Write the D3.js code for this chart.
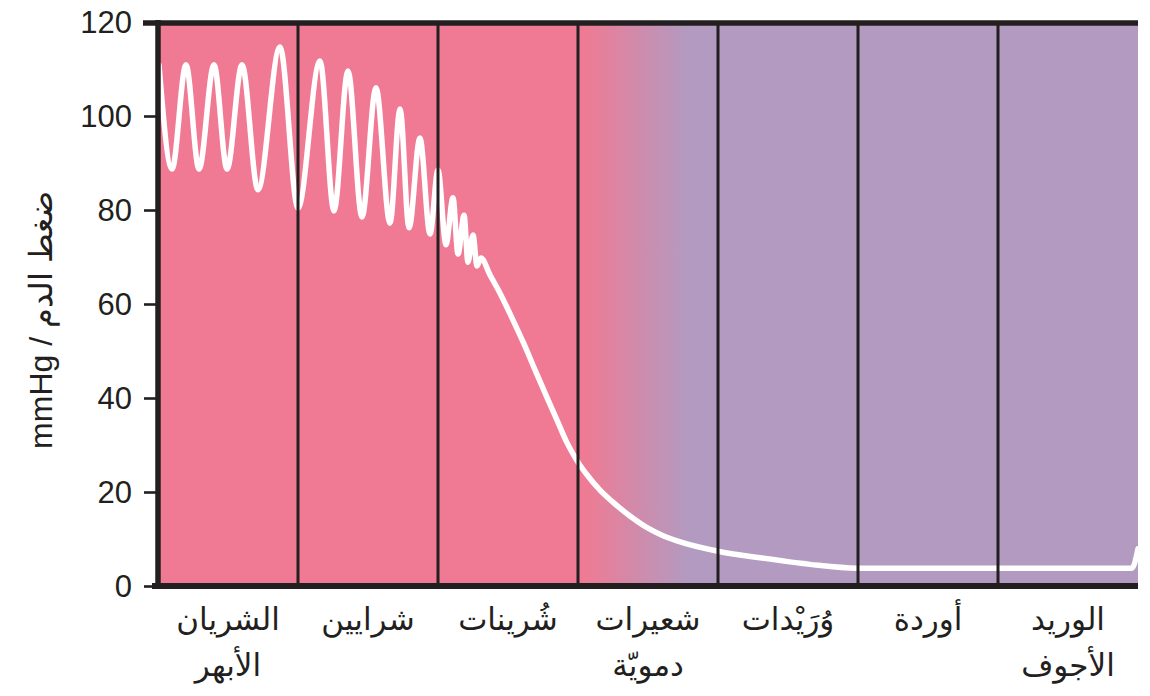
<!DOCTYPE html>
<html>
<head>
<meta charset="utf-8">
<script src="https://cdn.jsdelivr.net/npm/d3@7"></script>
<style>
  html, body { margin: 0; padding: 0; background: #ffffff; }
  svg { display: block; }
</style>
</head>
<body>
<svg id="chart" width="1150" height="696"></svg>
<script>
// ---------- data ----------
const categoryLabels = [
  ["الشريان", "الأبهر"],
  ["شرايين"],
  ["شُرينات"],
  ["شعيرات", "دمويّة"],
  ["وُرَيْدات"],
  ["أوردة"],
  ["الوريد", "الأجوف"]
];
const yTickValues = [0, 20, 40, 60, 80, 100, 120];
const yAxisTitle = "mmHg / ضغط الدم";

// position along the circulation (in vessel-segment units, 0..7)
const position = [
  0.007, 0.1, 0.2, 0.293, 0.4, 0.493, 0.6, 0.714, 0.871, 1.0,
  1.157, 1.257, 1.357, 1.457, 1.557, 1.657, 1.729, 1.793, 1.871, 1.943,
  2.0, 2.057, 2.107, 2.143, 2.186, 2.214, 2.25, 2.279, 2.307, 2.371,
  2.443, 2.529, 2.614, 2.7, 2.786, 2.857, 2.921, 2.986, 3.071, 3.157,
  3.243, 3.371, 3.5, 3.6, 3.707, 4.0, 4.3, 4.657, 4.993, 6.014, 6.957, 7.0
];
// blood pressure (mmHg)
const pressure = [
  110.9, 88.7, 110.9, 88.7, 110.9, 88.7, 110.9, 84.3, 114.7, 80.4,
  111.7, 79.8, 109.6, 78.5, 106.0, 77.2, 101.5, 76.2, 95.3, 74.9,
  88.5, 72.6, 82.6, 70.6, 78.9, 68.9, 74.7, 68.1, 69.8, 66.2,
  62.3, 57.0, 51.5, 45.5, 39.6, 34.8, 30.5, 27.0, 23.4, 20.4,
  18.0, 14.9, 12.3, 10.8, 9.6, 7.4, 6.0, 4.6, 3.8, 3.8, 3.8, 7.9
];

// ---------- layout ----------
const dark = "#231f20";
const pink = "#f07a93";
const purple = "#b39ac0";
const mLeft = 158, mRight = 1138, mTop = 22, mBottom = 586;

const svg = d3.select("#chart");

const x = d3.scaleLinear().domain([0, 7]).range([mLeft, mRight]);
const y = d3.scaleLinear().domain([0, 120]).range([mBottom, mTop]);
const band = d3.scaleBand().domain(d3.range(categoryLabels.length)).range([mLeft, mRight]).paddingInner(0).paddingOuter(0);

// gradient background
const defs = svg.append("defs");
const grad = defs.append("linearGradient")
  .attr("id", "bg")
  .attr("gradientUnits", "userSpaceOnUse")
  .attr("x1", x(3.03)).attr("x2", x(3.78))
  .attr("y1", 0).attr("y2", 0);
grad.append("stop").attr("offset", 0).attr("stop-color", pink);
grad.append("stop").attr("offset", 1).attr("stop-color", purple);

svg.append("rect")
  .attr("x", mLeft).attr("y", mTop)
  .attr("width", mRight - mLeft).attr("height", mBottom - mTop)
  .attr("fill", "url(#bg)");

// pressure curve
const pts = position.map((p, i) => [p, pressure[i]]);
const line = d3.line()
  .x(d => x(d[0]))
  .y(d => y(d[1]))
  .curve(d3.curveMonotoneX);

defs.append("clipPath").attr("id", "plotclip")
  .append("rect").attr("x", mLeft).attr("y", mTop).attr("width", mRight - mLeft).attr("height", mBottom - mTop);

svg.append("path")
  .datum(pts)
  .attr("clip-path", "url(#plotclip)")
  .attr("d", line)
  .attr("fill", "none")
  .attr("stroke", "#ffffff")
  .attr("stroke-width", 5.5)
  .attr("stroke-linejoin", "round")
  .attr("stroke-linecap", "round");

// dividers between vessel types
svg.append("g")
  .selectAll("line")
  .data(d3.range(1, categoryLabels.length))
  .join("line")
  .attr("x1", d => band(d)).attr("x2", d => band(d))
  .attr("y1", mTop).attr("y2", mBottom)
  .attr("stroke", dark)
  .attr("stroke-width", 3);

// top border
svg.append("line")
  .attr("x1", mLeft - 15).attr("x2", mRight)
  .attr("y1", mTop + 1).attr("y2", mTop + 1)
  .attr("stroke", dark).attr("stroke-width", 5.5);

// y axis
const yAxis = svg.append("g")
  .attr("transform", `translate(${mLeft},0)`)
  .call(d3.axisLeft(y).tickValues(yTickValues).tickSize(14).tickPadding(12).tickFormat(d3.format("d")));
yAxis.select(".domain").remove();
yAxis.selectAll(".tick line").attr("stroke", dark).attr("stroke-width", 2.6);
yAxis.selectAll(".tick text")
  .attr("fill", dark)
  .attr("font-family", "'Liberation Sans', Arial, sans-serif")
  .attr("font-size", 31)
  .attr("dy", "0.35em");

svg.append("line")
  .attr("x1", mLeft).attr("x2", mLeft)
  .attr("y1", mTop - 2).attr("y2", mBottom + 3)
  .attr("stroke", dark).attr("stroke-width", 5.5);

// x axis
const xAxis = svg.append("g")
  .attr("transform", `translate(0,${mBottom})`)
  .call(d3.axisBottom(band).tickSize(0).tickFormat(() => ""));
xAxis.select(".domain").remove();
svg.append("line")
  .attr("x1", mLeft - 6).attr("x2", mRight)
  .attr("y1", mBottom).attr("y2", mBottom)
  .attr("stroke", dark).attr("stroke-width", 6);

xAxis.selectAll(".tick text").each(function(d) {
  const t = d3.select(this);
  t.text(null)
    .attr("y", 0)
    .attr("dy", null)
    .attr("fill", dark)
    .attr("font-family", "'DejaVu Sans', sans-serif")
    .attr("font-size", 31)
    .attr("direction", "rtl")
    .attr("text-anchor", "middle");
  categoryLabels[d].forEach((s, i) => {
    t.append("tspan").attr("x", 0).attr("y", 44 + i * 46).text(s);
  });
});

// y axis title
svg.append("text")
  .attr("transform", `translate(52,${320}) rotate(-90)`)
  .attr("text-anchor", "middle")
  .attr("fill", dark)
  .attr("font-family", "'Liberation Sans', Arial, sans-serif")
  .attr("font-size", 32)
  .text(yAxisTitle);
</script>
</body>
</html>
